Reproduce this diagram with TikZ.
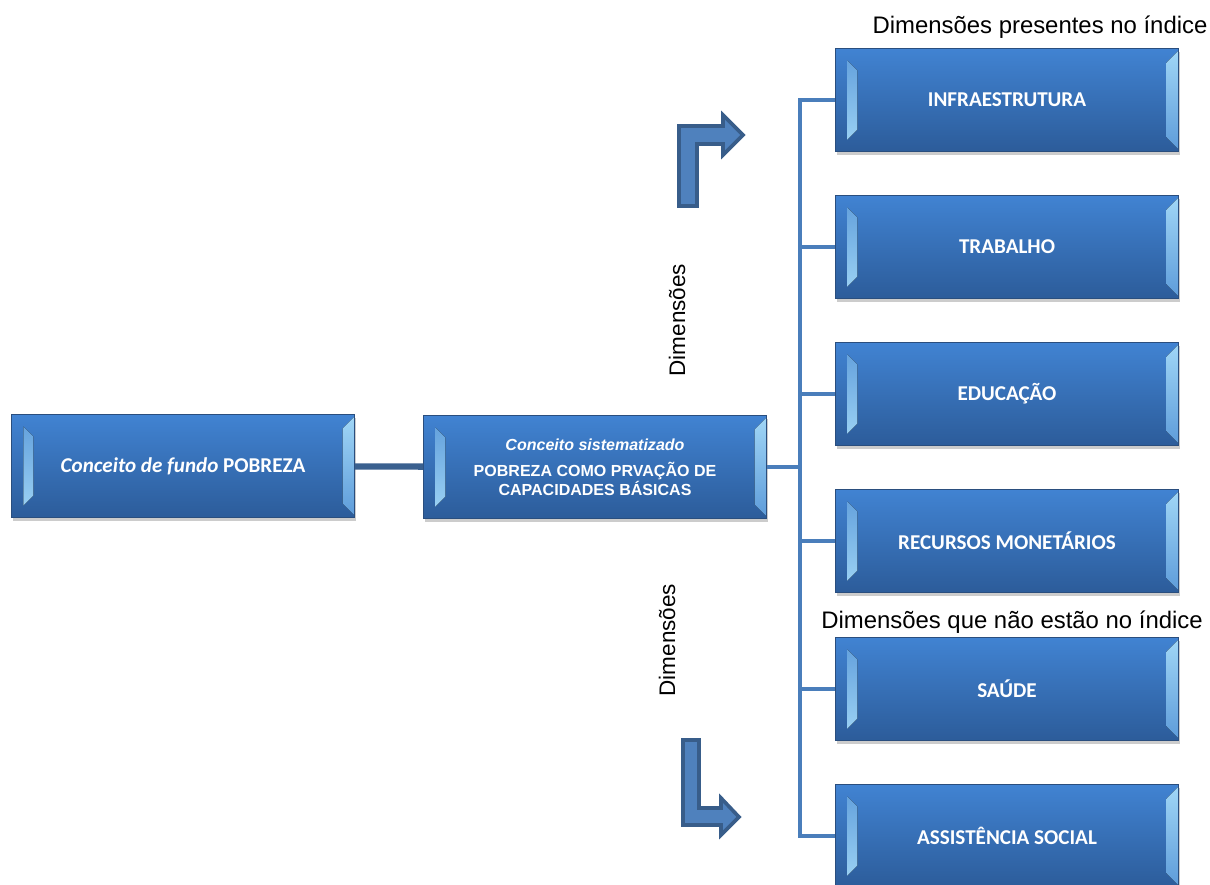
\documentclass[tikz,border=0pt]{standalone}
\usepackage{fontspec}
\setmainfont{Liberation Sans}
\newfontfamily\boxfont{Carlito}
\usetikzlibrary{calc, shadows}
\definecolor{boxtop}{HTML}{4183D2}
\definecolor{boxbot}{HTML}{2C5C9A}
\definecolor{boxrim}{HTML}{2A4E7E}
\definecolor{bevlight}{HTML}{A0D6F6}
\definecolor{bevdim}{HTML}{5E9CDA}
\definecolor{linkc}{HTML}{4A7EBB}
\definecolor{arrfill}{HTML}{4F81BD}
\definecolor{arrrim}{HTML}{385D8A}

\begin{document}
\begin{tikzpicture}[x=0.025cm, y=-0.025cm,
  cx/.style={draw=boxrim, line width=0.6pt, top color=boxtop, bottom color=boxbot,
    minimum width=8.575cm, minimum height=2.575cm, inner sep=0pt, align=center, text=white,
    font=\boxfont\bfseries\fontsize{15}{18}\selectfont,
    drop shadow={shadow xshift=1pt, shadow yshift=-2.5pt, opacity=0.4},
    path picture={
      \fill[top color=bevdim, bottom color=bevlight]
        ([shift={(0.3cm,0.3cm)}]path picture bounding box.south west) --
        ([shift={(0.3cm,-0.3cm)}]path picture bounding box.north west) --
        ([shift={(0.55cm,-0.55cm)}]path picture bounding box.north west) --
        ([shift={(0.55cm,0.55cm)}]path picture bounding box.south west) -- cycle;
      \fill[top color=bevlight, bottom color=bevdim]
        ([shift={(0cm,0.05cm)}]path picture bounding box.south east) --
        ([shift={(0cm,-0.05cm)}]path picture bounding box.north east) --
        ([shift={(-0.3cm,-0.35cm)}]path picture bounding box.north east) --
        ([shift={(-0.3cm,0.35cm)}]path picture bounding box.south east) -- cycle;
    }},
  lk/.style={draw=linkc, line width=3pt},
  lbl/.style={font=\fontsize{17}{20}\selectfont, inner sep=0pt},
  bent/.style={fill=arrfill, draw=arrrim, line width=2.6pt, line join=miter}]
  \useasboundingbox (0,0) rectangle (1210,884);

  \node[cx] (fundo) at (183,466) {\textit{Conceito de fundo} POBREZA};
  \node[cx, font=\rmfamily\bfseries\fontsize{11.4}{13.5}\selectfont] (sist) at (595,467)
    {\textit{Conceito sistematizado}\\[5pt] POBREZA COMO PRVAÇÃO DE\\ CAPACIDADES BÁSICAS};

  \node[cx] (infra) at (1007,100) {INFRAESTRUTURA};
  \node[cx] (trab) at (1007,247) {TRABALHO};
  \node[cx] (edu) at (1007,394) {EDUCAÇÃO};
  \node[cx] (rec) at (1007,541) {RECURSOS MONETÁRIOS};
  \node[cx] (saude) at (1007,689) {SAÚDE};
  \node[cx] (assist) at (1007,836) {ASSISTÊNCIA SOCIAL};

  \node[lbl] (pres) at (1040,27) {Dimensões presentes no índice};
  \node[lbl] (fora) at (1012,622) {Dimensões que não estão no índice};
  \node[lbl, rotate=90, font=\fontsize{16}{19}\selectfont] (dimA) at (677,320) {Dimensões};
  \node[lbl, rotate=90, font=\fontsize{16}{19}\selectfont] (dimB) at (667,640) {Dimensões};

  % links: fundo to sist, then one trunk feeding every dimension box
  \draw[lk, line width=4.5pt, draw=arrrim!90!linkc] (fundo) -- (sist);
  \coordinate (jn) at (800,467);
  \draw[lk] (sist) -- (jn);
  \draw[lk, line cap=rect] (jn |- infra) -- (jn |- assist);
  \foreach \d in {infra, trab, edu, rec, saude, assist}
    \draw[lk] (jn |- \d) -- (\d);

  % the two bent arrows
  \draw[bent] (679,206) -- (679,126) -- (723,126) -- (723,115) -- (743,135)
    -- (723,155) -- (723,144) -- (697,144) -- (697,206) -- cycle;
  \draw[bent] (683,740) -- (699,740) -- (699,808) -- (721,808) -- (721,798)
    -- (739,817) -- (721,835) -- (721,825) -- (683,825) -- cycle;
\end{tikzpicture}
\end{document}
